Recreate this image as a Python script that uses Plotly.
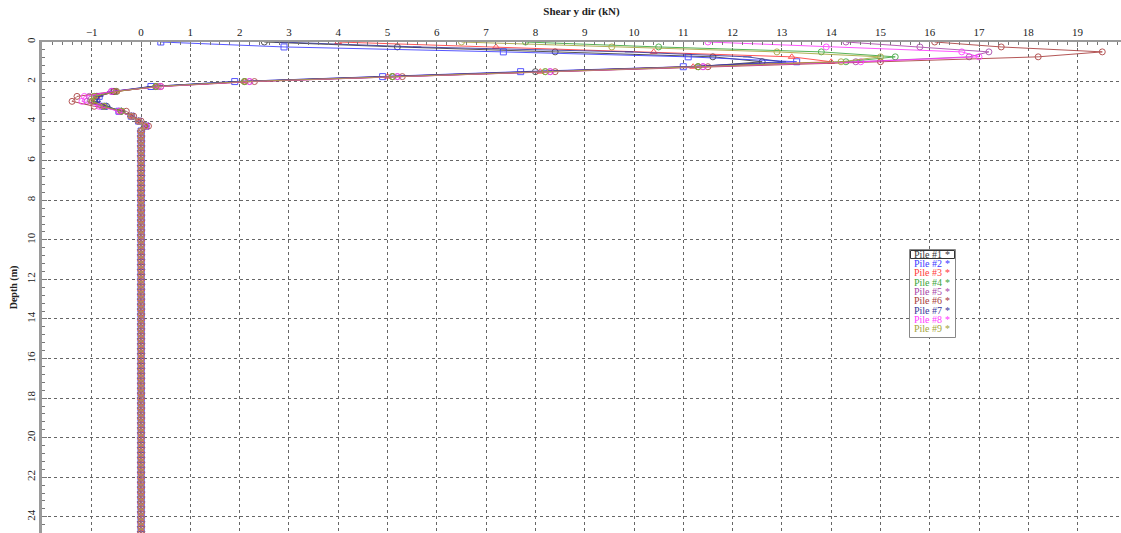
import plotly.graph_objects as go

# Node depths (m) along each pile, every 0.25 m from the head down to 25 m
DEPTH = [round(0.25 * i, 2) for i in range(101)]

# Shear y dir (kN) in the upper 4.5 m; below that every pile carries zero shear
TOP_NODES = 19
PILE_1 = [2.5, 5.2, 8.4, 11.6, 12.6, 11.3, 8.0, 5.1, 2.1, 0.3, -0.5, -0.9, -0.95, -0.7, -0.4, -0.2, -0.05, 0.08, 0.0]
PILE_2 = [0.4, 2.9, 7.35, 11.1, 13.3, 11.0, 7.7, 4.9, 1.9, 0.2, -0.55, -0.85, -0.9, -0.75, -0.45, -0.2, -0.05, 0.1, 0.0]
PILE_3 = [4.0, 7.2, 10.4, 13.2, 14.0, 11.2, 8.1, 5.0, 2.1, 0.3, -0.5, -0.9, -1.0, -0.75, -0.4, -0.2, -0.05, 0.08, 0.0]
PILE_4 = [7.8, 10.5, 13.8, 15.3, 14.3, 11.3, 8.2, 5.1, 2.1, 0.3, -0.55, -0.95, -1.0, -0.75, -0.4, -0.2, -0.05, 0.08, 0.0]
PILE_5 = [14.3, 15.8, 17.2, 16.8, 14.5, 11.4, 8.3, 5.2, 2.2, 0.35, -0.6, -1.05, -1.1, -0.8, -0.45, -0.2, -0.05, 0.1, 0.0]
PILE_6 = [16.1, 17.45, 19.5, 18.2, 15.0, 11.5, 8.4, 5.3, 2.3, 0.4, -0.55, -1.3, -1.4, -0.95, -0.3, -0.15, 0.0, 0.15, 0.0]
PILE_7 = [2.8, 5.6, 9.9, 12.3, 13.0, 11.1, 7.9, 4.8, 1.9, 0.2, -0.6, -0.85, -0.9, -0.7, -0.4, -0.2, -0.05, 0.08, 0.0]
PILE_8 = [11.5, 13.9, 16.65, 17.0, 14.6, 11.4, 8.3, 5.2, 2.2, 0.4, -0.6, -1.15, -1.2, -0.85, -0.45, -0.2, -0.05, 0.1, 0.0]
PILE_9 = [6.5, 9.55, 12.9, 15.0, 14.2, 11.3, 8.2, 5.1, 2.1, 0.3, -0.5, -0.95, -1.0, -0.75, -0.4, -0.2, -0.05, 0.08, 0.0]

PILE_NAMES = ["Pile #1", "Pile #2", "Pile #3", "Pile #4", "Pile #5",
              "Pile #6", "Pile #7", "Pile #8", "Pile #9"]
PILE_TOPS = [PILE_1, PILE_2, PILE_3, PILE_4, PILE_5, PILE_6, PILE_7, PILE_8, PILE_9]

X_TICKS = list(range(-1, 20))
Y_TICKS = list(range(0, 25, 2))

COLORS = ["#383838", "#3a3aff", "#ff3a3a", "#3aa53a", "#a845a8",
          "#a83a3a", "#35359a", "#ff3aff", "#a5a53a"]
SYMBOLS = ["circle-open", "square-open", "triangle-up-open", "circle-open", "circle-open",
           "circle-open", "line-ew-open", "circle-open", "circle-open"]

SERIF = "Liberation Serif, Times New Roman, serif"

fig = go.Figure()
for name, top, color, sym in zip(PILE_NAMES, PILE_TOPS, COLORS, SYMBOLS):
    shear = top + [0.0] * (len(DEPTH) - TOP_NODES)
    fig.add_trace(go.Scatter(
        x=shear, y=DEPTH, name=name, mode="lines+markers",
        line=dict(color=color, width=1),
        marker=dict(symbol=sym, size=6, color=color, line=dict(width=1, color=color)),
        opacity=0.85, showlegend=False,
    ))

fig.update_layout(
    width=1121, height=533,
    margin=dict(l=42, r=0, t=42, b=0),
    paper_bgcolor="white", plot_bgcolor="white",
    font=dict(family=SERIF, size=11, color="#222"),
    xaxis=dict(
        title=dict(text="<b>Shear y dir (kN)</b>", font=dict(size=11, family=SERIF), standoff=8),
        side="top", range=[-2.01, 19.88],
        tickmode="array", tickvals=X_TICKS,
        ticks="inside", ticklen=5, tickcolor="#777",
        showline=True, linecolor="#9a9a9a", linewidth=2,
        showgrid=True, gridcolor="#666", griddash="dot", gridwidth=1,
        minor=dict(dtick=0.2, tick0=0, ticks="inside", ticklen=3, tickcolor="#777", showgrid=False),
        zeroline=False, tickfont=dict(size=11, family=SERIF),
    ),
    yaxis=dict(
        title=dict(text="<b>Depth (m)</b>", font=dict(size=10, family=SERIF), standoff=6),
        range=[24.82, 0],
        tickmode="array", tickvals=Y_TICKS, tickangle=-90,
        ticks="inside", ticklen=5, tickcolor="#777",
        showline=True, linecolor="#9a9a9a", linewidth=3,
        showgrid=True, gridcolor="#666", griddash="dot", gridwidth=1,
        minor=dict(dtick=0.4, tick0=0, ticks="inside", ticklen=3, tickcolor="#777", showgrid=False),
        zeroline=False, tickfont=dict(size=11, family=SERIF),
    ),
)

# Legend box with coloured entry labels and a small series mark after each
PLOT_L, PLOT_T, PLOT_W, PLOT_H = 42, 42, 1079, 491


def px_x(p):
    return (p - PLOT_L) / PLOT_W


def px_y(p):
    return 1 - (p - PLOT_T) / PLOT_H


fig.add_shape(type="rect", xref="paper", yref="paper",
              x0=px_x(909.5), x1=px_x(955.5), y0=px_y(337.5), y1=px_y(249.5),
              line=dict(color="#888", width=1), fillcolor="white", layer="above")
fig.add_shape(type="rect", xref="paper", yref="paper",
              x0=px_x(910.5), x1=px_x(954.5), y0=px_y(258.5), y1=px_y(250.5),
              line=dict(color="#333", width=1), fillcolor="rgba(0,0,0,0)", layer="above")
for i, (name, color) in enumerate(zip(PILE_NAMES, COLORS)):
    yc = 254.3 + i * 9.33
    fig.add_annotation(xref="paper", yref="paper", x=px_x(911.5), y=px_y(yc),
                       text=name, showarrow=False, xanchor="left", yanchor="middle",
                       font=dict(family=SERIF, size=10, color=color))
    fig.add_annotation(xref="paper", yref="paper", x=px_x(948), y=px_y(yc),
                       text="*", showarrow=False, xanchor="center", yanchor="middle",
                       font=dict(family=SERIF, size=10, color=color))

fig.write_html("out.html")
